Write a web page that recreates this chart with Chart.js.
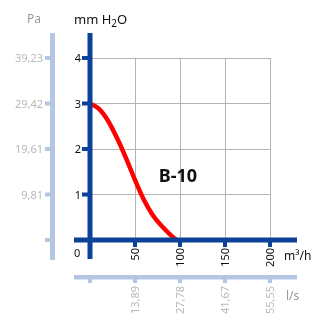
<!DOCTYPE html>
<html>
<head>
<meta charset="utf-8">
<script src="https://cdn.jsdelivr.net/npm/chart.js@4/dist/chart.umd.min.js"></script>
<style>
  body { margin: 0; background: #fff; }
  canvas { display: block; }
</style>
</head>
<body>
<canvas id="fanChart" width="315" height="320"></canvas>
<script>
// curve B-10: airflow (m3/h) vs pressure (mm H2O)
const flow = [0, 10, 20, 30, 40, 50, 60, 70, 80, 90, 96];
const pressure = [3.0, 2.88, 2.62, 2.24, 1.8, 1.32, 0.88, 0.54, 0.3, 0.1, 0];

const yTicks = [1, 2, 3, 4];
const paLabels = ['9,81', '19,61', '29,42', '39,23'];
const xTicks = [50, 100, 150, 200];
const lsLabels = ['13,89', '27,78', '41,67', '55,55'];

const dark = '#0b4199';
const light = '#b3c6e2';
const grey = '#b8b8b8';
const font = '"Noto Sans", sans-serif';

const axesPlugin = {
    id: 'axes',
    afterDatasetsDraw(chart) {
        const c = chart.ctx;
        const xs = chart.scales.x, ys = chart.scales.y;
        const x0 = xs.getPixelForValue(0);
        const y0 = ys.getPixelForValue(0);
        c.save();

        // main axes
        c.fillStyle = dark;
        c.fillRect(x0 - 2.5, 33, 5, 226);
        c.fillRect(74, y0 - 2.5, 223, 5);
        yTicks.forEach(v => {
            c.fillRect(x0 - 8, ys.getPixelForValue(v) - 2, 6, 4);
        });
        xTicks.forEach(v => {
            c.fillRect(xs.getPixelForValue(v) - 2, y0 + 2, 4, 5);
        });

        // secondary axes (Pa, l/s)
        c.fillStyle = light;
        c.fillRect(50, 33, 5, 227);
        [0].concat(yTicks).forEach(v => {
            c.fillRect(45, ys.getPixelForValue(v) - 2, 5, 4);
        });
        c.fillRect(74, 275, 223, 4.5);
        [0].concat(xTicks).forEach(v => {
            c.fillRect(xs.getPixelForValue(v) - 2, 279, 4, 4);
        });

        // labels
        c.font = '11px ' + font;
        c.textBaseline = 'middle';
        c.textAlign = 'right';
        c.fillStyle = '#111';
        yTicks.forEach(v => c.fillText(String(v), x0 - 9, ys.getPixelForValue(v) + 1));
        c.fillStyle = grey;
        yTicks.forEach((v, i) => c.fillText(paLabels[i], 43, ys.getPixelForValue(v) + 1));

        xTicks.forEach((v, i) => {
            const px = xs.getPixelForValue(v);
            c.save();
            c.translate(px + 1, y0 + 8);
            c.rotate(-Math.PI / 2);
            c.fillStyle = '#111';
            c.fillText(String(v), 0, 0);
            c.restore();
            c.save();
            c.translate(px + 1, 286);
            c.rotate(-Math.PI / 2);
            c.fillStyle = grey;
            c.fillText(lsLabels[i], 0, 0);
            c.restore();
        });

        c.textAlign = 'left';
        c.fillStyle = '#111';
        c.fillText('0', 74, 254);
        c.font = '12px ' + font;
        c.fillText('m³/h', 284, 257);
        c.fillStyle = '#999';
        c.fillText('l/s', 286, 297);
        c.fillText('Pa', 27, 20);

        // mm H2O with subscript
        c.fillStyle = '#111';
        c.font = '13px ' + font;
        c.textBaseline = 'alphabetic';
        let tx = 74;
        c.fillText('mm H', tx, 24);
        tx += c.measureText('mm H').width;
        c.font = '10px ' + font;
        c.fillText('2', tx, 27);
        tx += c.measureText('2').width;
        c.font = '13px ' + font;
        c.fillText('O', tx, 24);

        c.font = 'bold 18px ' + font;
        c.textAlign = 'center';
        c.textBaseline = 'middle';
        c.fillText('B-10', 178, 177);
        c.restore();
    }
};

new Chart(document.getElementById('fanChart'), {
    type: 'line',
    data: {
        datasets: [{
            data: flow.map((f, i) => ({ x: f, y: pressure[i] })),
            borderColor: '#ff0000',
            borderWidth: 4.5,
            pointRadius: 0,
            cubicInterpolationMode: 'monotone',
            fill: false
        }]
    },
    options: {
        responsive: false,
        animation: false,
        layout: { padding: { left: 90, right: 45, top: 58, bottom: 80 } },
        plugins: { legend: { display: false }, tooltip: { enabled: false } },
        scales: {
            x: {
                type: 'linear', min: 0, max: 200,
                ticks: { display: false, stepSize: 50 },
                grid: { color: '#b4b4b4', lineWidth: 1, drawTicks: false },
                border: { display: false }
            },
            y: {
                min: 0, max: 4,
                ticks: { display: false, stepSize: 1 },
                grid: { color: '#b4b4b4', lineWidth: 1, drawTicks: false },
                border: { display: false }
            }
        }
    },
    plugins: [axesPlugin]
});
</script>
</body>
</html>
